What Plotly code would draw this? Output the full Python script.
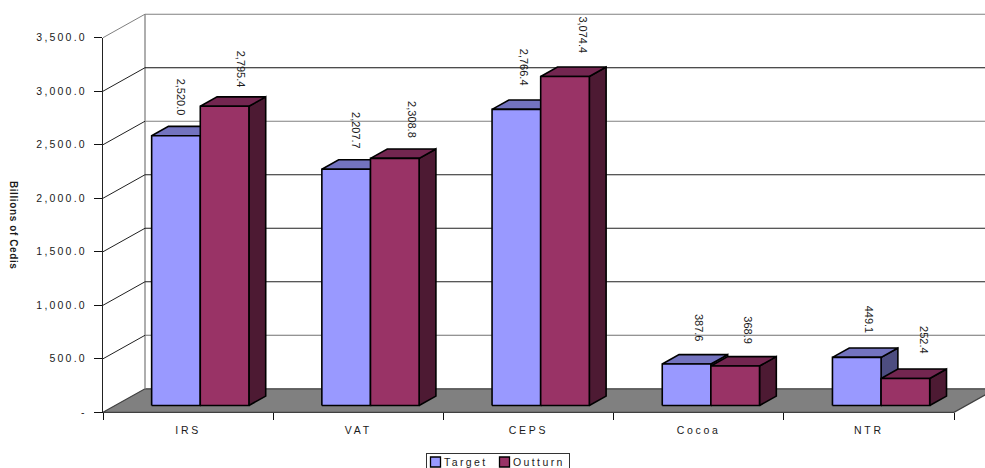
import plotly.graph_objects as go

# Revenue by collecting agency, billions of cedis
categories = ["IRS", "VAT", "CEPS", "Cocoa", "NTR"]
target = [2520.0, 2207.7, 2766.4, 387.6, 449.1]
outturn = [2795.4, 2308.8, 3074.4, 368.9, 252.4]
value_ticks = [0, 500, 1000, 1500, 2000, 2500, 3000, 3500]
value_tick_labels = ["-", "500.0", "1,000.0", "1,500.0", "2,000.0", "2,500.0", "3,000.0", "3,500.0"]

FONT = "Liberation Sans, Arial, sans-serif"
INK = "#1a1a1a"

# Page geometry: the visible axes span these pixels, the hidden drawing axes span the page
W, H = 985, 468
AX_L, AX_R, AX_T, AX_B = 103, 954, 37.7, 412.3
PX_PER_CAT = (AX_R - AX_L) / 5
PX_PER_VAL = (AX_B - AX_T) / 3500

# Oblique projection: how far the back wall sits from the front plane, in axis units
DEPTH_X = 42 / PX_PER_CAT
DEPTH_Y = 23.5 / PX_PER_VAL
BAR_NEAR, BAR_FAR = 0.29, 0.69
BAR_W = 1 / 3.5


def project(x, v, d):
    return x + d * DEPTH_X, v + d * DEPTH_Y


def poly(points, fill=None, line="black", width=1.6):
    xs, ys = zip(*[project(*p) for p in points])
    return go.Scatter(
        x=list(xs), y=list(ys), xaxis="x2", yaxis="y2", mode="lines",
        fill="toself" if fill else None, fillcolor=fill,
        line=dict(color=line, width=width),
        hoverinfo="skip", showlegend=False,
    )


fig = go.Figure()

# Floor, drawn first so the walls and bars sit on top of it
fig.add_trace(poly([(0, 0, 0), (5, 0, 0), (5, 0, 1), (0, 0, 1), (0, 0, 0)], fill="#808080", line="#404040", width=1.2))

# Side wall edge and back wall frame
fig.add_trace(poly([(0, 0, 1), (0, 3500, 1)], line="#8c8c8c", width=1.4))

# Gridlines running up the side wall and along the back wall
back_colors = {500: "#707070", 1000: "#202020", 1500: "#202020", 2000: "#202020",
               2500: "#808080", 3000: "#101010", 3500: "#808080"}
for v in value_ticks[1:]:
    fig.add_trace(poly([(0, v, 0), (0, v, 1)], line="#808080" if v == 3500 else "#202020", width=1))
    fig.add_trace(poly([(0, v, 1), (5, v, 1)], line=back_colors[v], width=1.1))

series = [
    ("#9999FF", "#7373BF", "#4D4D80", target, -BAR_W),
    ("#993366", "#732650", "#4D1A33", outturn, 0.0),
]
for i in range(len(categories)):
    for front, top, side, values, offset in series:
        x0 = i + 0.5 + offset
        x1 = x0 + BAR_W
        v = values[i]
        fig.add_trace(poly([(x1, 0, BAR_NEAR), (x1, 0, BAR_FAR), (x1, v, BAR_FAR), (x1, v, BAR_NEAR), (x1, 0, BAR_NEAR)], fill=side))
        fig.add_trace(poly([(x0, v, BAR_NEAR), (x1, v, BAR_NEAR), (x1, v, BAR_FAR), (x0, v, BAR_FAR), (x0, v, BAR_NEAR)], fill=top))
        fig.add_trace(poly([(x0, 0, BAR_NEAR), (x1, 0, BAR_NEAR), (x1, v, BAR_NEAR), (x0, v, BAR_NEAR), (x0, 0, BAR_NEAR)], fill=front))

# Legend entries
for name, color in (("Target", "#9999FF"), ("Outturn", "#993366")):
    fig.add_trace(go.Scatter(
        x=[None], y=[None], mode="markers", name=name,
        marker=dict(symbol="square", size=10, color=color, line=dict(color="black", width=1.3)),
    ))

# Value labels, turned to read downwards; pixel nudges keep them clear of the bar tops
target_nudge = [(4.6, 18), (10.5, 18), (7.7, 22), (12.5, 20), (12, 22)]
outturn_nudge = [(16.5, 17), (17, 18), (18.5, 21), (12.5, 20), (18, 22)]
for values, offset, nudges in ((target, -BAR_W / 2, target_nudge), (outturn, BAR_W / 2, outturn_nudge)):
    for i, v in enumerate(values):
        x, y = project(i + 0.5 + offset, v, BAR_NEAR)
        fig.add_annotation(
            x=x, y=y, xref="x2", yref="y2", text=f"{v:,.1f}", textangle=90, showarrow=False,
            xanchor="center", yanchor="bottom", xshift=nudges[i][0], yshift=nudges[i][1],
            font=dict(family=FONT, size=11, color=INK),
        )

# Value axis caption, reading downwards
fig.add_annotation(
    x=14 / W, y=1 - 225 / H, xref="paper", yref="paper", text="<b>Billions of Cedis</b>",
    textangle=90, showarrow=False, xanchor="center", yanchor="middle",
    font=dict(family=FONT, size=10, color=INK), name="value-caption",
)

fig.update_layout(
    width=W, height=H,
    margin=dict(l=0, r=0, t=0, b=0, autoexpand=False),
    paper_bgcolor="white", plot_bgcolor="rgba(0,0,0,0)",
    font=dict(family=FONT, size=10.5, color=INK),
    showlegend=True,
    legend=dict(
        orientation="h", x=426 / W, xanchor="left", xref="paper", y=1 - 453 / H, yanchor="top", yref="paper",
        bgcolor="white", bordercolor="#333333", borderwidth=1, font=dict(family=FONT, size=10.5, color=INK),
    ),
    xaxis=dict(
        domain=[AX_L / W, AX_R / W], anchor="y",
        range=[0, 5], tickmode="array", tickvals=[i + 0.5 for i in range(5)], ticktext=categories,
        ticks="", ticklabelstandoff=8, showgrid=False, zeroline=False, fixedrange=True,
        showline=True, linecolor="#111111", linewidth=1.3,
        minor=dict(tickmode="array", tickvals=list(range(6)), ticks="outside", ticklen=7, tickcolor="#111111", tickwidth=1.2, showgrid=False),
    ),
    yaxis=dict(
        domain=[1 - AX_B / H, 1 - AX_T / H], anchor="x",
        range=[0, 3500], tickmode="array", tickvals=value_ticks, ticktext=value_tick_labels,
        ticks="outside", ticklen=8, tickcolor="#111111", tickwidth=1.2, ticklabelstandoff=5,
        showgrid=False, zeroline=False, fixedrange=True,
        showline=True, linecolor="#222222", linewidth=1.2,
    ),
    # Hidden axes covering the whole page, used for the projected bars and walls
    xaxis2=dict(domain=[0, 1], anchor="y2", range=[-AX_L / PX_PER_CAT, (W - AX_L) / PX_PER_CAT],
                visible=False, fixedrange=True),
    yaxis2=dict(domain=[0, 1], anchor="x2", range=[(AX_B - H) / PX_PER_VAL, AX_B / PX_PER_VAL],
                visible=False, fixedrange=True),
)

# Letter spacing on axis text, and a tighter legend layout with small swatches
post = """
var root = document.querySelector('.js-plotly-plot');
root.querySelectorAll('.xtick text').forEach(function(t){t.style.letterSpacing='2.7px';});
root.querySelectorAll('.ytick text').forEach(function(t){t.style.letterSpacing='2.2px';});
root.querySelectorAll('.annotation-text').forEach(function(t){
  if (t.textContent.indexOf('Billions') === 0) { t.style.letterSpacing='0.6px'; }
});
var symX = [9.5, 78.5], textX = [18, 87];
root.querySelectorAll('.legend .traces').forEach(function(g, k){
  g.setAttribute('transform', 'translate(0,9)');
  var txt = g.querySelector('.legendtext');
  txt.setAttribute('x', textX[k]);
  txt.style.letterSpacing = '2.4px';
  var sym = g.querySelector('.legendsymbols');
  sym.setAttribute('transform', 'translate(' + (symX[k] - 20) + ',0)');
});
var bg = root.querySelector('.legend .bg');
bg.setAttribute('width', 143);
bg.setAttribute('height', 18);
"""
fig.write_html("out.html", post_script=post)
